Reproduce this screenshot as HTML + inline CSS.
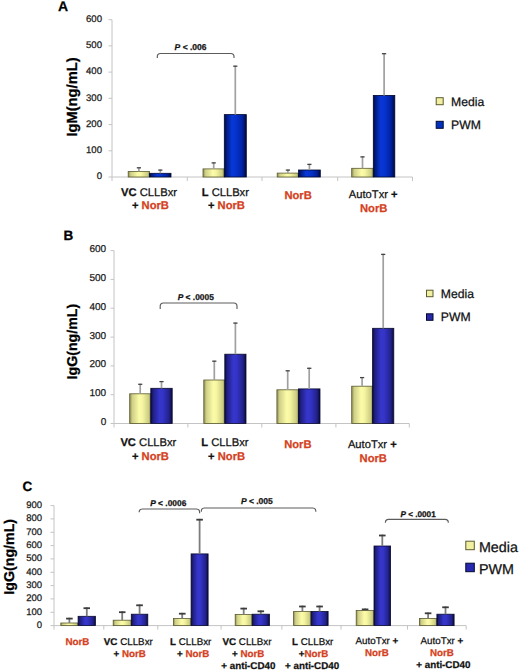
<!DOCTYPE html><html><head><meta charset="utf-8"><style>html,body{margin:0;padding:0;background:#fff;width:520px;height:671px;overflow:hidden}svg{display:block}text{font-family:"Liberation Sans", sans-serif;text-rendering:geometricPrecision;stroke-width:0.25px}</style></head><body>
<svg width="520" height="671" viewBox="0 0 520 671">
<defs>
<linearGradient id="gy" x1="0" x2="1" y1="0" y2="0"><stop offset="0" stop-color="#8c8c50"/><stop offset="0.12" stop-color="#cfcf88"/><stop offset="0.45" stop-color="#fbfba8"/><stop offset="0.6" stop-color="#f6f6a2"/><stop offset="0.9" stop-color="#cdcd84"/><stop offset="1" stop-color="#8c8c50"/></linearGradient>
<linearGradient id="gba" x1="0" x2="1" y1="0" y2="0"><stop offset="0" stop-color="#000838"/><stop offset="0.1" stop-color="#001a80"/><stop offset="0.35" stop-color="#0838d8"/><stop offset="0.55" stop-color="#0632cc"/><stop offset="0.82" stop-color="#0022a0"/><stop offset="0.95" stop-color="#00105a"/><stop offset="1" stop-color="#000830"/></linearGradient>
<linearGradient id="gb" x1="0" x2="1" y1="0" y2="0"><stop offset="0" stop-color="#0a0a38"/><stop offset="0.1" stop-color="#1e1e80"/><stop offset="0.4" stop-color="#3636cc"/><stop offset="0.55" stop-color="#3434c8"/><stop offset="0.85" stop-color="#22228c"/><stop offset="1" stop-color="#0a0a38"/></linearGradient>
</defs>
<line x1="112" y1="19.7" x2="112" y2="177" stroke="#c4c4c4" stroke-width="1"/>
<line x1="108.5" y1="177.0" x2="112" y2="177.0" stroke="#c4c4c4" stroke-width="1"/>
<text x="102.0" y="179.2" font-size="9.6" text-anchor="end" font-weight="normal" fill="#1a1a1a" stroke="#1a1a1a" >0</text>
<line x1="108.5" y1="150.8" x2="112" y2="150.8" stroke="#c4c4c4" stroke-width="1"/>
<text x="102.0" y="153.0" font-size="9.6" text-anchor="end" font-weight="normal" fill="#1a1a1a" stroke="#1a1a1a" >100</text>
<line x1="108.5" y1="124.6" x2="112" y2="124.6" stroke="#c4c4c4" stroke-width="1"/>
<text x="102.0" y="126.8" font-size="9.6" text-anchor="end" font-weight="normal" fill="#1a1a1a" stroke="#1a1a1a" >200</text>
<line x1="108.5" y1="98.3" x2="112" y2="98.3" stroke="#c4c4c4" stroke-width="1"/>
<text x="102.0" y="100.6" font-size="9.6" text-anchor="end" font-weight="normal" fill="#1a1a1a" stroke="#1a1a1a" >300</text>
<line x1="108.5" y1="72.1" x2="112" y2="72.1" stroke="#c4c4c4" stroke-width="1"/>
<text x="102.0" y="74.4" font-size="9.6" text-anchor="end" font-weight="normal" fill="#1a1a1a" stroke="#1a1a1a" >400</text>
<line x1="108.5" y1="45.9" x2="112" y2="45.9" stroke="#c4c4c4" stroke-width="1"/>
<text x="102.0" y="48.2" font-size="9.6" text-anchor="end" font-weight="normal" fill="#1a1a1a" stroke="#1a1a1a" >500</text>
<line x1="108.5" y1="19.7" x2="112" y2="19.7" stroke="#c4c4c4" stroke-width="1"/>
<text x="102.0" y="21.9" font-size="9.6" text-anchor="end" font-weight="normal" fill="#1a1a1a" stroke="#1a1a1a" >600</text>
<line x1="112" y1="177" x2="412.5" y2="177" stroke="#c4c4c4" stroke-width="1"/>
<line x1="112" y1="177" x2="112" y2="181" stroke="#c4c4c4" stroke-width="1"/>
<line x1="187.3" y1="177" x2="187.3" y2="181" stroke="#c4c4c4" stroke-width="1"/>
<line x1="262" y1="177" x2="262" y2="181" stroke="#c4c4c4" stroke-width="1"/>
<line x1="337.7" y1="177" x2="337.7" y2="181" stroke="#c4c4c4" stroke-width="1"/>
<line x1="412.5" y1="177" x2="412.5" y2="181" stroke="#c4c4c4" stroke-width="1"/>
<rect x="128.2" y="171.5" width="21.4" height="5.5" fill="url(#gy)" stroke="#5a5a30" stroke-width="0.8"/>
<rect x="149.6" y="173.3" width="21.4" height="3.7" fill="url(#gba)" stroke="#000830" stroke-width="0.8"/>
<rect x="203.0" y="168.9" width="21.3" height="8.1" fill="url(#gy)" stroke="#5a5a30" stroke-width="0.8"/>
<rect x="224.3" y="114.6" width="22.0" height="62.4" fill="url(#gba)" stroke="#000830" stroke-width="0.8"/>
<rect x="277.2" y="173.1" width="21.3" height="3.9" fill="url(#gy)" stroke="#5a5a30" stroke-width="0.8"/>
<rect x="298.5" y="170.0" width="21.8" height="7.0" fill="url(#gba)" stroke="#000830" stroke-width="0.8"/>
<rect x="351.7" y="168.3" width="21.6" height="8.7" fill="url(#gy)" stroke="#5a5a30" stroke-width="0.8"/>
<rect x="373.3" y="95.4" width="21.5" height="81.6" fill="url(#gba)" stroke="#000830" stroke-width="0.8"/>
<line x1="138.9" y1="171.5" x2="138.9" y2="167.2" stroke="#a0a0a0" stroke-width="1.7"/>
<line x1="136.8" y1="167.8" x2="141.0" y2="167.8" stroke="#454545" stroke-width="1.3"/>
<line x1="160.3" y1="173.3" x2="160.3" y2="169.5" stroke="#a0a0a0" stroke-width="1.7"/>
<line x1="158.2" y1="170.1" x2="162.4" y2="170.1" stroke="#454545" stroke-width="1.3"/>
<line x1="213.7" y1="168.9" x2="213.7" y2="162.3" stroke="#a0a0a0" stroke-width="1.7"/>
<line x1="211.6" y1="162.9" x2="215.8" y2="162.9" stroke="#454545" stroke-width="1.3"/>
<line x1="235.3" y1="114.6" x2="235.3" y2="65.6" stroke="#a0a0a0" stroke-width="1.7"/>
<line x1="233.2" y1="66.2" x2="237.4" y2="66.2" stroke="#454545" stroke-width="1.3"/>
<line x1="287.9" y1="173.1" x2="287.9" y2="169.5" stroke="#a0a0a0" stroke-width="1.7"/>
<line x1="285.8" y1="170.1" x2="290.0" y2="170.1" stroke="#454545" stroke-width="1.3"/>
<line x1="309.4" y1="170.0" x2="309.4" y2="163.8" stroke="#a0a0a0" stroke-width="1.7"/>
<line x1="307.3" y1="164.4" x2="311.5" y2="164.4" stroke="#454545" stroke-width="1.3"/>
<line x1="362.5" y1="168.3" x2="362.5" y2="156.3" stroke="#a0a0a0" stroke-width="1.7"/>
<line x1="360.4" y1="156.9" x2="364.6" y2="156.9" stroke="#454545" stroke-width="1.3"/>
<line x1="384.1" y1="95.4" x2="384.1" y2="53.1" stroke="#a0a0a0" stroke-width="1.7"/>
<line x1="381.9" y1="53.7" x2="386.2" y2="53.7" stroke="#454545" stroke-width="1.3"/>
<text transform="translate(76.7,97) rotate(-90)" font-size="14.7" font-weight="bold" text-anchor="middle" fill="#000" stroke="#000">IgM(ng/mL)</text>
<text x="58.0" y="11.3" font-size="14" text-anchor="start" font-weight="bold" fill="#000" stroke="#000" >A</text>
<rect x="436.2" y="97.7" width="7" height="7" fill="#f0f0a0" stroke="#5a5a30" stroke-width="1"/>
<text x="451.0" y="106.0" font-size="12.2" text-anchor="start" font-weight="normal" fill="#111" stroke="#111" >Media</text>
<rect x="436.2" y="121.3" width="7" height="7" fill="#0030c0" stroke="#000830" stroke-width="1"/>
<text x="451.0" y="129.0" font-size="12.2" text-anchor="start" font-weight="normal" fill="#111" stroke="#111" >PWM</text>
<path d="M157.3,57.9 L157.3,56.7 Q157.3,53.5 160.5,53.5 L230.8,53.5 Q234,53.5 234,56.7 L234,57.9" fill="none" stroke="#5c5c5c" stroke-width="1.15"/>
<text x="174.6" y="49.8" font-size="8.5" font-weight="bold" fill="#111" stroke="#111"><tspan font-style="italic">P</tspan> &lt; .006</text>
<text x="121.1" y="196" font-size="11.2" xml:space="preserve"><tspan font-weight="bold" fill="#111" stroke="#111">VC</tspan><tspan font-weight="normal" fill="#111" stroke="#111"> CLLBxr</tspan></text>
<text x="131.9" y="209.2" font-size="11.2" xml:space="preserve"><tspan font-weight="bold" fill="#111" stroke="#111">+ </tspan><tspan font-weight="bold" fill="#d44020" stroke="#d44020">NorB</tspan></text>
<text x="201.7" y="196.2" font-size="11.2" xml:space="preserve"><tspan font-weight="bold" fill="#111" stroke="#111">L</tspan><tspan font-weight="normal" fill="#111" stroke="#111"> CLLBxr</tspan></text>
<text x="207.9" y="209.1" font-size="11.2" xml:space="preserve"><tspan font-weight="bold" fill="#111" stroke="#111">+ </tspan><tspan font-weight="bold" fill="#d44020" stroke="#d44020">NorB</tspan></text>
<text x="284.4" y="198.8" font-size="11.2" xml:space="preserve"><tspan font-weight="bold" fill="#d44020" stroke="#d44020">NorB</tspan></text>
<text x="348.8" y="198" font-size="11.2" xml:space="preserve"><tspan font-weight="normal" fill="#111" stroke="#111">AutoTxr </tspan><tspan font-weight="bold" fill="#111" stroke="#111">+</tspan></text>
<text x="360.0" y="211.5" font-size="11.2" xml:space="preserve"><tspan font-weight="bold" fill="#d44020" stroke="#d44020">NorB</tspan></text>
<line x1="114" y1="250.6" x2="114" y2="423.5" stroke="#c4c4c4" stroke-width="1"/>
<line x1="110.5" y1="423.5" x2="114" y2="423.5" stroke="#c4c4c4" stroke-width="1"/>
<text x="106.2" y="425.0" font-size="10" text-anchor="end" font-weight="normal" fill="#1a1a1a" stroke="#1a1a1a" >0</text>
<line x1="110.5" y1="394.7" x2="114" y2="394.7" stroke="#c4c4c4" stroke-width="1"/>
<text x="106.2" y="396.2" font-size="10" text-anchor="end" font-weight="normal" fill="#1a1a1a" stroke="#1a1a1a" >100</text>
<line x1="110.5" y1="365.9" x2="114" y2="365.9" stroke="#c4c4c4" stroke-width="1"/>
<text x="106.2" y="367.3" font-size="10" text-anchor="end" font-weight="normal" fill="#1a1a1a" stroke="#1a1a1a" >200</text>
<line x1="110.5" y1="337.1" x2="114" y2="337.1" stroke="#c4c4c4" stroke-width="1"/>
<text x="106.2" y="338.5" font-size="10" text-anchor="end" font-weight="normal" fill="#1a1a1a" stroke="#1a1a1a" >300</text>
<line x1="110.5" y1="308.2" x2="114" y2="308.2" stroke="#c4c4c4" stroke-width="1"/>
<text x="106.2" y="309.7" font-size="10" text-anchor="end" font-weight="normal" fill="#1a1a1a" stroke="#1a1a1a" >400</text>
<line x1="110.5" y1="279.4" x2="114" y2="279.4" stroke="#c4c4c4" stroke-width="1"/>
<text x="106.2" y="280.9" font-size="10" text-anchor="end" font-weight="normal" fill="#1a1a1a" stroke="#1a1a1a" >500</text>
<line x1="110.5" y1="250.6" x2="114" y2="250.6" stroke="#c4c4c4" stroke-width="1"/>
<text x="106.2" y="252.1" font-size="10" text-anchor="end" font-weight="normal" fill="#1a1a1a" stroke="#1a1a1a" >600</text>
<line x1="114" y1="423.5" x2="409.3" y2="423.5" stroke="#c4c4c4" stroke-width="1"/>
<line x1="114" y1="423.5" x2="114" y2="427.5" stroke="#c4c4c4" stroke-width="1"/>
<line x1="187.9" y1="423.5" x2="187.9" y2="427.5" stroke="#c4c4c4" stroke-width="1"/>
<line x1="261.8" y1="423.5" x2="261.8" y2="427.5" stroke="#c4c4c4" stroke-width="1"/>
<line x1="335.9" y1="423.5" x2="335.9" y2="427.5" stroke="#c4c4c4" stroke-width="1"/>
<line x1="409.3" y1="423.5" x2="409.3" y2="427.5" stroke="#c4c4c4" stroke-width="1"/>
<rect x="129.7" y="393.8" width="21.1" height="29.7" fill="url(#gy)" stroke="#5a5a30" stroke-width="0.8"/>
<rect x="150.8" y="388.3" width="21.4" height="35.2" fill="url(#gb)" stroke="#0a0a30" stroke-width="0.8"/>
<rect x="203.8" y="380.0" width="21.0" height="43.5" fill="url(#gy)" stroke="#5a5a30" stroke-width="0.8"/>
<rect x="224.8" y="354.2" width="21.2" height="69.3" fill="url(#gb)" stroke="#0a0a30" stroke-width="0.8"/>
<rect x="276.9" y="389.8" width="21.6" height="33.7" fill="url(#gy)" stroke="#5a5a30" stroke-width="0.8"/>
<rect x="298.5" y="388.9" width="21.5" height="34.6" fill="url(#gb)" stroke="#0a0a30" stroke-width="0.8"/>
<rect x="351.7" y="386.2" width="20.9" height="37.3" fill="url(#gy)" stroke="#5a5a30" stroke-width="0.8"/>
<rect x="372.6" y="328.3" width="21.2" height="95.2" fill="url(#gb)" stroke="#0a0a30" stroke-width="0.8"/>
<line x1="140.2" y1="393.8" x2="140.2" y2="383.7" stroke="#a0a0a0" stroke-width="1.7"/>
<line x1="138.2" y1="384.3" x2="142.3" y2="384.3" stroke="#454545" stroke-width="1.3"/>
<line x1="161.5" y1="388.3" x2="161.5" y2="381.0" stroke="#a0a0a0" stroke-width="1.7"/>
<line x1="159.4" y1="381.6" x2="163.6" y2="381.6" stroke="#454545" stroke-width="1.3"/>
<line x1="214.3" y1="380.0" x2="214.3" y2="360.6" stroke="#a0a0a0" stroke-width="1.7"/>
<line x1="212.2" y1="361.2" x2="216.4" y2="361.2" stroke="#454545" stroke-width="1.3"/>
<line x1="235.4" y1="354.2" x2="235.4" y2="322.5" stroke="#a0a0a0" stroke-width="1.7"/>
<line x1="233.3" y1="323.1" x2="237.5" y2="323.1" stroke="#454545" stroke-width="1.3"/>
<line x1="287.7" y1="389.8" x2="287.7" y2="370.2" stroke="#a0a0a0" stroke-width="1.7"/>
<line x1="285.6" y1="370.8" x2="289.8" y2="370.8" stroke="#454545" stroke-width="1.3"/>
<line x1="309.2" y1="388.9" x2="309.2" y2="367.7" stroke="#a0a0a0" stroke-width="1.7"/>
<line x1="307.1" y1="368.3" x2="311.4" y2="368.3" stroke="#454545" stroke-width="1.3"/>
<line x1="362.1" y1="386.2" x2="362.1" y2="377.0" stroke="#a0a0a0" stroke-width="1.7"/>
<line x1="360.0" y1="377.6" x2="364.2" y2="377.6" stroke="#454545" stroke-width="1.3"/>
<line x1="383.2" y1="328.3" x2="383.2" y2="253.8" stroke="#a0a0a0" stroke-width="1.7"/>
<line x1="381.1" y1="254.4" x2="385.3" y2="254.4" stroke="#454545" stroke-width="1.3"/>
<text transform="translate(77.4,341.6) rotate(-90)" font-size="14.2" font-weight="bold" text-anchor="middle" fill="#000" stroke="#000">IgG(ng/mL)</text>
<text x="63.5" y="240.0" font-size="13.5" text-anchor="start" font-weight="bold" fill="#000" stroke="#000" >B</text>
<rect x="426.5" y="290.2" width="6.5" height="6.5" fill="#f0f0a0" stroke="#5a5a30" stroke-width="1"/>
<text x="440.8" y="297.5" font-size="12.2" text-anchor="start" font-weight="normal" fill="#111" stroke="#111" >Media</text>
<rect x="426.5" y="313.8" width="6.5" height="6.5" fill="#2828a8" stroke="#000830" stroke-width="1"/>
<text x="440.8" y="321.0" font-size="12.2" text-anchor="start" font-weight="normal" fill="#111" stroke="#111" >PWM</text>
<path d="M160.2,309 L160.2,306.2 Q160.2,303 163.39999999999998,303 L233.8,303 Q237,303 237,306.2 L237,309" fill="none" stroke="#5c5c5c" stroke-width="1.15"/>
<text x="177.7" y="300" font-size="8.4" font-weight="bold" fill="#111" stroke="#111"><tspan font-style="italic">P</tspan> &lt; .0005</text>
<text x="120.4" y="446.2" font-size="11.2" xml:space="preserve"><tspan font-weight="bold" fill="#111" stroke="#111">VC</tspan><tspan font-weight="normal" fill="#111" stroke="#111"> CLLBxr</tspan></text>
<text x="131.9" y="460" font-size="11.2" xml:space="preserve"><tspan font-weight="bold" fill="#111" stroke="#111">+ </tspan><tspan font-weight="bold" fill="#d44020" stroke="#d44020">NorB</tspan></text>
<text x="201.3" y="446.2" font-size="11.2" xml:space="preserve"><tspan font-weight="bold" fill="#111" stroke="#111">L</tspan><tspan font-weight="normal" fill="#111" stroke="#111"> CLLBxr</tspan></text>
<text x="208.1" y="460" font-size="11.2" xml:space="preserve"><tspan font-weight="bold" fill="#111" stroke="#111">+ </tspan><tspan font-weight="bold" fill="#d44020" stroke="#d44020">NorB</tspan></text>
<text x="284.2" y="447.7" font-size="11.2" xml:space="preserve"><tspan font-weight="bold" fill="#d44020" stroke="#d44020">NorB</tspan></text>
<text x="347.9" y="447.7" font-size="11.2" xml:space="preserve"><tspan font-weight="normal" fill="#111" stroke="#111">AutoTxr </tspan><tspan font-weight="bold" fill="#111" stroke="#111">+</tspan></text>
<text x="359.6" y="461.5" font-size="11.2" xml:space="preserve"><tspan font-weight="bold" fill="#d44020" stroke="#d44020">NorB</tspan></text>
<line x1="54" y1="505.6" x2="54" y2="625.6" stroke="#c4c4c4" stroke-width="1"/>
<line x1="50.5" y1="625.6" x2="54" y2="625.6" stroke="#c4c4c4" stroke-width="1"/>
<text x="42.0" y="627.9" font-size="9.5" text-anchor="end" font-weight="normal" fill="#1a1a1a" stroke="#1a1a1a" >0</text>
<line x1="50.5" y1="612.3" x2="54" y2="612.3" stroke="#c4c4c4" stroke-width="1"/>
<text x="42.0" y="614.6" font-size="9.5" text-anchor="end" font-weight="normal" fill="#1a1a1a" stroke="#1a1a1a" >100</text>
<line x1="50.5" y1="598.9" x2="54" y2="598.9" stroke="#c4c4c4" stroke-width="1"/>
<text x="42.0" y="601.2" font-size="9.5" text-anchor="end" font-weight="normal" fill="#1a1a1a" stroke="#1a1a1a" >200</text>
<line x1="50.5" y1="585.6" x2="54" y2="585.6" stroke="#c4c4c4" stroke-width="1"/>
<text x="42.0" y="587.9" font-size="9.5" text-anchor="end" font-weight="normal" fill="#1a1a1a" stroke="#1a1a1a" >300</text>
<line x1="50.5" y1="572.3" x2="54" y2="572.3" stroke="#c4c4c4" stroke-width="1"/>
<text x="42.0" y="574.6" font-size="9.5" text-anchor="end" font-weight="normal" fill="#1a1a1a" stroke="#1a1a1a" >400</text>
<line x1="50.5" y1="558.9" x2="54" y2="558.9" stroke="#c4c4c4" stroke-width="1"/>
<text x="42.0" y="561.2" font-size="9.5" text-anchor="end" font-weight="normal" fill="#1a1a1a" stroke="#1a1a1a" >500</text>
<line x1="50.5" y1="545.6" x2="54" y2="545.6" stroke="#c4c4c4" stroke-width="1"/>
<text x="42.0" y="547.9" font-size="9.5" text-anchor="end" font-weight="normal" fill="#1a1a1a" stroke="#1a1a1a" >600</text>
<line x1="50.5" y1="532.3" x2="54" y2="532.3" stroke="#c4c4c4" stroke-width="1"/>
<text x="42.0" y="534.6" font-size="9.5" text-anchor="end" font-weight="normal" fill="#1a1a1a" stroke="#1a1a1a" >700</text>
<line x1="50.5" y1="518.9" x2="54" y2="518.9" stroke="#c4c4c4" stroke-width="1"/>
<text x="42.0" y="521.2" font-size="9.5" text-anchor="end" font-weight="normal" fill="#1a1a1a" stroke="#1a1a1a" >800</text>
<line x1="50.5" y1="505.6" x2="54" y2="505.6" stroke="#c4c4c4" stroke-width="1"/>
<text x="42.0" y="507.9" font-size="9.5" text-anchor="end" font-weight="normal" fill="#1a1a1a" stroke="#1a1a1a" >900</text>
<line x1="54" y1="625.6" x2="466.2" y2="625.6" stroke="#c4c4c4" stroke-width="1"/>
<line x1="54" y1="625.6" x2="54" y2="629.6" stroke="#c4c4c4" stroke-width="1"/>
<line x1="103.8" y1="625.6" x2="103.8" y2="629.6" stroke="#c4c4c4" stroke-width="1"/>
<line x1="157.8" y1="625.6" x2="157.8" y2="629.6" stroke="#c4c4c4" stroke-width="1"/>
<line x1="221.1" y1="625.6" x2="221.1" y2="629.6" stroke="#c4c4c4" stroke-width="1"/>
<line x1="281.9" y1="625.6" x2="281.9" y2="629.6" stroke="#c4c4c4" stroke-width="1"/>
<line x1="341" y1="625.6" x2="341" y2="629.6" stroke="#c4c4c4" stroke-width="1"/>
<line x1="407.5" y1="625.6" x2="407.5" y2="629.6" stroke="#c4c4c4" stroke-width="1"/>
<line x1="466.2" y1="625.6" x2="466.2" y2="629.6" stroke="#c4c4c4" stroke-width="1"/>
<rect x="60.8" y="623.0" width="17.3" height="2.6" fill="url(#gy)" stroke="#5a5a30" stroke-width="0.8"/>
<rect x="78.1" y="616.3" width="17.3" height="9.3" fill="url(#gb)" stroke="#0a0a30" stroke-width="0.8"/>
<rect x="113.2" y="620.2" width="18.1" height="5.4" fill="url(#gy)" stroke="#5a5a30" stroke-width="0.8"/>
<rect x="131.3" y="614.2" width="16.5" height="11.4" fill="url(#gb)" stroke="#0a0a30" stroke-width="0.8"/>
<rect x="173.4" y="618.6" width="17.7" height="7.0" fill="url(#gy)" stroke="#5a5a30" stroke-width="0.8"/>
<rect x="191.1" y="553.9" width="17.0" height="71.7" fill="url(#gb)" stroke="#0a0a30" stroke-width="0.8"/>
<rect x="235.2" y="614.5" width="17.0" height="11.1" fill="url(#gy)" stroke="#5a5a30" stroke-width="0.8"/>
<rect x="252.2" y="614.2" width="17.2" height="11.4" fill="url(#gb)" stroke="#0a0a30" stroke-width="0.8"/>
<rect x="293.6" y="611.5" width="17.5" height="14.1" fill="url(#gy)" stroke="#5a5a30" stroke-width="0.8"/>
<rect x="311.1" y="611.5" width="17.0" height="14.1" fill="url(#gb)" stroke="#0a0a30" stroke-width="0.8"/>
<rect x="356.2" y="610.6" width="17.8" height="15.0" fill="url(#gy)" stroke="#5a5a30" stroke-width="0.8"/>
<rect x="374.0" y="546.0" width="16.6" height="79.6" fill="url(#gb)" stroke="#0a0a30" stroke-width="0.8"/>
<rect x="419.4" y="618.5" width="17.5" height="7.1" fill="url(#gy)" stroke="#5a5a30" stroke-width="0.8"/>
<rect x="436.9" y="614.2" width="17.2" height="11.4" fill="url(#gb)" stroke="#0a0a30" stroke-width="0.8"/>
<line x1="69.4" y1="623.0" x2="69.4" y2="617.7" stroke="#7c7c7c" stroke-width="1.8"/>
<line x1="66.1" y1="618.6" x2="72.7" y2="618.6" stroke="#3c3c3c" stroke-width="1.8"/>
<line x1="86.8" y1="616.3" x2="86.8" y2="607.3" stroke="#7c7c7c" stroke-width="1.8"/>
<line x1="83.5" y1="608.2" x2="90.0" y2="608.2" stroke="#3c3c3c" stroke-width="1.8"/>
<line x1="122.2" y1="620.2" x2="122.2" y2="611.3" stroke="#7c7c7c" stroke-width="1.8"/>
<line x1="119.0" y1="612.2" x2="125.5" y2="612.2" stroke="#3c3c3c" stroke-width="1.8"/>
<line x1="139.6" y1="614.2" x2="139.6" y2="604.4" stroke="#7c7c7c" stroke-width="1.8"/>
<line x1="136.2" y1="605.3" x2="142.9" y2="605.3" stroke="#3c3c3c" stroke-width="1.8"/>
<line x1="182.2" y1="618.6" x2="182.2" y2="612.8" stroke="#7c7c7c" stroke-width="1.8"/>
<line x1="178.9" y1="613.7" x2="185.6" y2="613.7" stroke="#3c3c3c" stroke-width="1.8"/>
<line x1="199.6" y1="553.9" x2="199.6" y2="518.8" stroke="#7c7c7c" stroke-width="1.8"/>
<line x1="196.3" y1="519.7" x2="202.9" y2="519.7" stroke="#3c3c3c" stroke-width="1.8"/>
<line x1="243.7" y1="614.5" x2="243.7" y2="607.7" stroke="#7c7c7c" stroke-width="1.8"/>
<line x1="240.4" y1="608.6" x2="247.0" y2="608.6" stroke="#3c3c3c" stroke-width="1.8"/>
<line x1="260.8" y1="614.2" x2="260.8" y2="610.4" stroke="#7c7c7c" stroke-width="1.8"/>
<line x1="257.5" y1="611.3" x2="264.1" y2="611.3" stroke="#3c3c3c" stroke-width="1.8"/>
<line x1="302.4" y1="611.5" x2="302.4" y2="605.6" stroke="#7c7c7c" stroke-width="1.8"/>
<line x1="299.1" y1="606.5" x2="305.7" y2="606.5" stroke="#3c3c3c" stroke-width="1.8"/>
<line x1="319.6" y1="611.5" x2="319.6" y2="605.6" stroke="#7c7c7c" stroke-width="1.8"/>
<line x1="316.3" y1="606.5" x2="322.9" y2="606.5" stroke="#3c3c3c" stroke-width="1.8"/>
<line x1="365.1" y1="610.6" x2="365.1" y2="608.5" stroke="#7c7c7c" stroke-width="1.8"/>
<line x1="361.8" y1="609.4" x2="368.4" y2="609.4" stroke="#3c3c3c" stroke-width="1.8"/>
<line x1="382.3" y1="546.0" x2="382.3" y2="534.6" stroke="#7c7c7c" stroke-width="1.8"/>
<line x1="379.0" y1="535.5" x2="385.6" y2="535.5" stroke="#3c3c3c" stroke-width="1.8"/>
<line x1="428.1" y1="618.5" x2="428.1" y2="612.4" stroke="#7c7c7c" stroke-width="1.8"/>
<line x1="424.8" y1="613.3" x2="431.4" y2="613.3" stroke="#3c3c3c" stroke-width="1.8"/>
<line x1="445.5" y1="614.2" x2="445.5" y2="606.4" stroke="#7c7c7c" stroke-width="1.8"/>
<line x1="442.2" y1="607.3" x2="448.8" y2="607.3" stroke="#3c3c3c" stroke-width="1.8"/>
<text transform="translate(14.2,556.8) rotate(-90)" font-size="14.2" font-weight="bold" text-anchor="middle" fill="#000" stroke="#000">IgG(ng/mL)</text>
<text x="22.5" y="491.2" font-size="13.5" text-anchor="start" font-weight="bold" fill="#000" stroke="#000" >C</text>
<rect x="465.8" y="541.2" width="8.5" height="8.5" fill="#f0f0a0" stroke="#5a5a30" stroke-width="1"/>
<text x="478.9" y="551.8" font-size="14.3" text-anchor="start" font-weight="normal" fill="#111" stroke="#111" >Media</text>
<rect x="465.8" y="563.2" width="8.5" height="8.5" fill="#2828b0" stroke="#000830" stroke-width="1"/>
<text x="478.9" y="573.5" font-size="14.3" text-anchor="start" font-weight="normal" fill="#111" stroke="#111" >PWM</text>
<path d="M139.2,511.3 L139.2,512.2 Q139.2,509 142.39999999999998,509 L196.4,509 Q199.6,509 199.6,512.2 L199.6,513.3" fill="none" stroke="#5c5c5c" stroke-width="1.15"/>
<path d="M201.3,511.7 L201.3,511.2 Q201.3,508 204.5,508 L312.6,508 Q315.8,508 315.8,511.2 L315.8,511.7" fill="none" stroke="#5c5c5c" stroke-width="1.15"/>
<path d="M385.4,522.7 L385.4,522.6 Q385.4,519.4 388.59999999999997,519.4 L445.1,519.4 Q448.3,519.4 448.3,522.6 L448.3,522.7" fill="none" stroke="#5c5c5c" stroke-width="1.15"/>
<text x="150.2" y="506" font-size="8.4" font-weight="bold" fill="#111" stroke="#111"><tspan font-style="italic">P</tspan> &lt; .0006</text>
<text x="240.9" y="504.4" font-size="8.5" font-weight="bold" fill="#111" stroke="#111"><tspan font-style="italic">P</tspan> &lt; .005</text>
<text x="400.4" y="516.5" font-size="8.2" font-weight="bold" fill="#111" stroke="#111"><tspan font-style="italic">P</tspan> &lt; .0001</text>
<text x="65.4" y="645.4" font-size="9.8" xml:space="preserve"><tspan font-weight="bold" fill="#d44020" stroke="#d44020">NorB</tspan></text>
<text x="103.8" y="645" font-size="9.8" xml:space="preserve"><tspan font-weight="bold" fill="#111" stroke="#111">VC</tspan><tspan font-weight="normal" fill="#111" stroke="#111"> CLLBxr</tspan></text>
<text x="113.5" y="656.5" font-size="9.8" xml:space="preserve"><tspan font-weight="bold" fill="#111" stroke="#111">+ </tspan><tspan font-weight="bold" fill="#d44020" stroke="#d44020">NorB</tspan></text>
<text x="170" y="645" font-size="9.8" xml:space="preserve"><tspan font-weight="bold" fill="#111" stroke="#111">L</tspan><tspan font-weight="normal" fill="#111" stroke="#111"> CLLBxr</tspan></text>
<text x="177" y="656.5" font-size="9.8" xml:space="preserve"><tspan font-weight="bold" fill="#111" stroke="#111">+ </tspan><tspan font-weight="bold" fill="#d44020" stroke="#d44020">NorB</tspan></text>
<text x="222.5" y="645" font-size="9.8" xml:space="preserve"><tspan font-weight="bold" fill="#111" stroke="#111">VC</tspan><tspan font-weight="normal" fill="#111" stroke="#111"> CLLBxr</tspan></text>
<text x="232" y="656.75" font-size="9.8" xml:space="preserve"><tspan font-weight="bold" fill="#111" stroke="#111">+ </tspan><tspan font-weight="bold" fill="#d44020" stroke="#d44020">NorB</tspan></text>
<text x="221.25" y="668.75" font-size="9.8" xml:space="preserve"><tspan font-weight="bold" fill="#111" stroke="#111">+ anti-CD40</tspan></text>
<text x="292" y="645" font-size="9.8" xml:space="preserve"><tspan font-weight="bold" fill="#111" stroke="#111">L</tspan><tspan font-weight="normal" fill="#111" stroke="#111"> CLLBxr</tspan></text>
<text x="298.75" y="656.75" font-size="9.8" xml:space="preserve"><tspan font-weight="bold" fill="#111" stroke="#111">+</tspan><tspan font-weight="bold" fill="#d44020" stroke="#d44020">NorB</tspan></text>
<text x="285" y="668.75" font-size="9.8" xml:space="preserve"><tspan font-weight="bold" fill="#111" stroke="#111">+ anti-CD40</tspan></text>
<text x="355.5" y="644.25" font-size="9.8" xml:space="preserve"><tspan font-weight="normal" fill="#111" stroke="#111">AutoTxr </tspan><tspan font-weight="bold" fill="#111" stroke="#111">+</tspan></text>
<text x="365" y="655.75" font-size="9.8" xml:space="preserve"><tspan font-weight="bold" fill="#d44020" stroke="#d44020">NorB</tspan></text>
<text x="420.5" y="643.75" font-size="9.8" xml:space="preserve"><tspan font-weight="normal" fill="#111" stroke="#111">AutoTxr </tspan><tspan font-weight="bold" fill="#111" stroke="#111">+</tspan></text>
<text x="430" y="655.5" font-size="9.8" xml:space="preserve"><tspan font-weight="bold" fill="#d44020" stroke="#d44020">NorB</tspan></text>
<text x="416.25" y="667.5" font-size="9.8" xml:space="preserve"><tspan font-weight="bold" fill="#111" stroke="#111">+ anti-CD40</tspan></text>
</svg></body></html>
